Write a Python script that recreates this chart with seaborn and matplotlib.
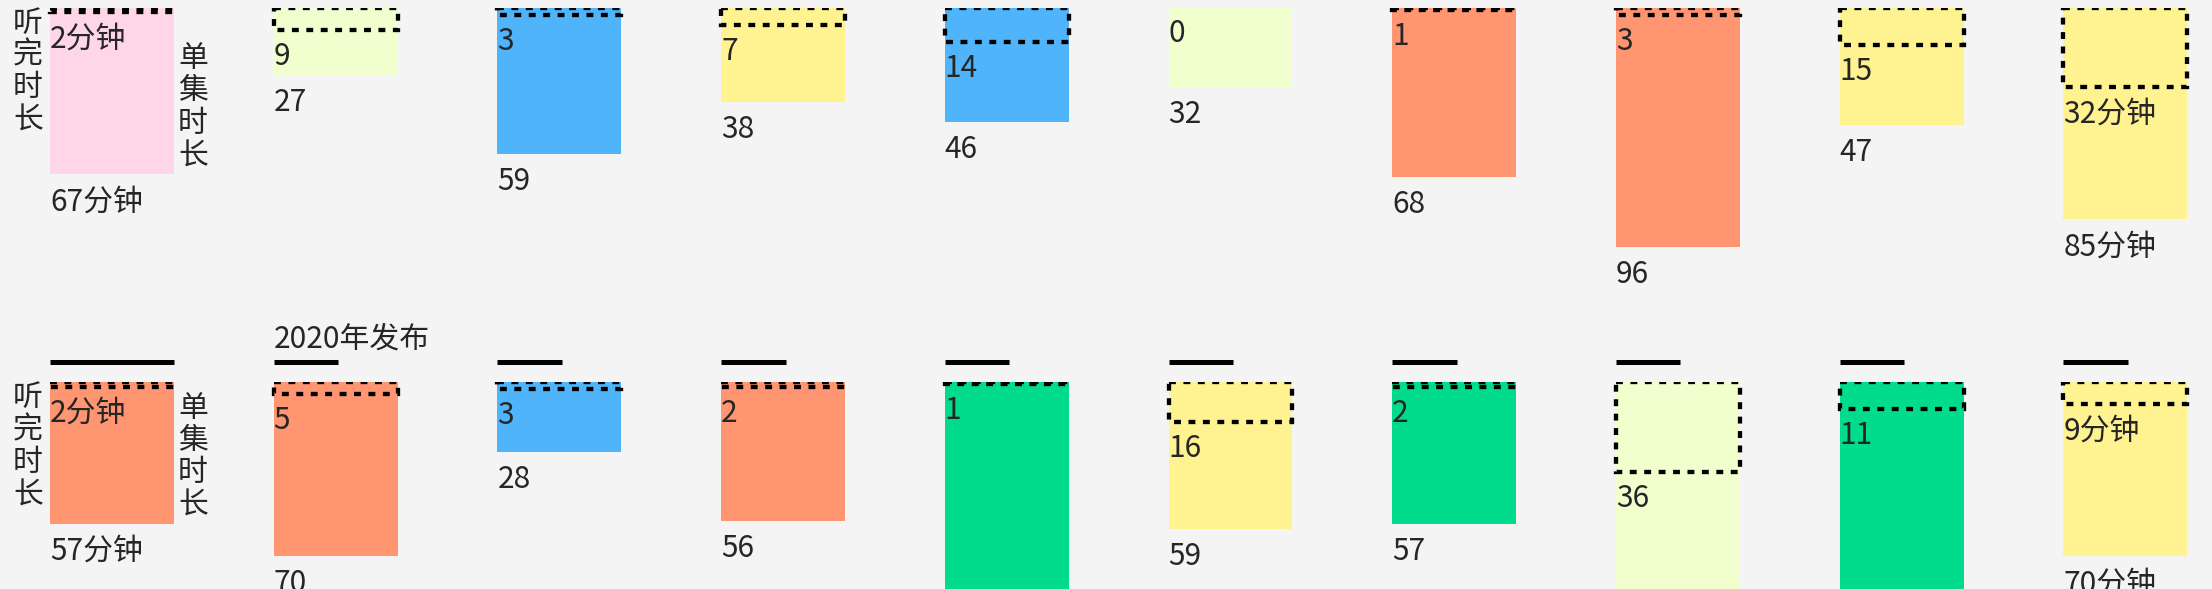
import pandas as pd
import matplotlib.pyplot as plt
from matplotlib.patches import Rectangle
import seaborn as sns

sns.set_style("white")
plt.rcParams['font.family'] = ['Noto Sans CJK SC', 'DejaVu Sans']

# ---------------- data ----------------
PINK, LIGHT, BLUE, YELLOW, SALMON, GREEN = (
    "#ffd6e8", "#f1ffce", "#4fb4fa", "#fff291", "#ff9571", "#00dc8c")

row1_colors = [PINK, LIGHT, BLUE, YELLOW, BLUE, LIGHT, SALMON, SALMON, YELLOW, YELLOW]
row1_listen = [2, 9, 3, 7, 14, 0, 1, 3, 15, 32]      # 听完时长 (min)
row1_length = [67, 27, 59, 38, 46, 32, 68, 96, 47, 85]  # 单集时长 (min)

row2_colors = [SALMON, SALMON, BLUE, SALMON, GREEN, YELLOW, GREEN, LIGHT, GREEN, YELLOW]
row2_listen = [2, 5, 3, 2, 1, 16, 2, 36, 11, 9]
row2_length = [57, 70, 28, 56, 105, 59, 57, 112, 108, 70]  # 5th, 8th, 9th run off the page
row2_rule = [1.0, 0.52, 0.52, 0.52, 0.52, 0.52, 0.52, 0.52, 0.52, 0.52]
row2_notes = {1: "2020年发布"}

unit_cells = (0, 9)
side_left = "听完时长"
side_right = "单集时长"

# ---------------- layout ----------------
W, H = 2212, 589
PX = 2.49          # pixels per minute
PITCH = 223.7      # pixels per cell
BAR_W = 0.554
FS = 21.5
BG = "#f4f4f4"

fig = plt.figure(figsize=(W / 100, H / 100), dpi=100, facecolor=BG)
ax1 = fig.add_axes([0, (H - 7.5 - 320) / H, 1, 320 / H])
ax2 = fig.add_axes([0, 0, 1, (H - 382) / H])


def draw_row(ax, colors, listen, length, visible, rule=None, notes=None):
    slots = [str(i) for i in range(len(length))]
    df = pd.DataFrame({"slot": slots, "length": length})
    sns.barplot(data=df, x="slot", y="length", hue="slot",
                palette=dict(zip(slots, colors)), width=BAR_W,
                saturation=1, errorbar=None, linewidth=0, legend=False, ax=ax)

    for i, (l, n) in enumerate(zip(listen, length)):
        left = i - BAR_W / 2
        if l > 0:
            ax.add_patch(Rectangle((left, 0), BAR_W, l, fill=False,
                                   edgecolor="black", linewidth=3.1,
                                   linestyle=(0, (1.6, 1.75)), zorder=5))
        unit = "分钟" if i in unit_cells else ""
        ax.text(left, l + 35 / PX, f"{l}{unit}", fontsize=FS,
                ha="left", va="baseline", zorder=6)
        # length label sits under the bar; skip it when that is off the page
        if n + 14 / PX < visible:
            ax.text(left, n + 36 / PX, f"{n}{unit}", fontsize=FS,
                    ha="left", va="baseline", clip_on=False)
        if rule is not None:
            ax.hlines(-20 / PX, left, left + BAR_W * rule[i], color="black",
                      linewidth=3.6, clip_on=False)
        if notes and i in notes:
            ax.text(left, -34 / PX, notes[i], fontsize=FS,
                    ha="left", va="baseline", clip_on=False)

    # side captions around the first cell
    ax.text(-BAR_W / 2 - 22 / PITCH, 0, "\n".join(side_left), fontsize=FS,
            ha="center", va="top", linespacing=1.06, clip_on=False)
    ax.text(BAR_W / 2 + 19 / PITCH, length[0] - 3 / PX,
            "\n".join(side_right), fontsize=FS, ha="center", va="bottom",
            linespacing=1.06, clip_on=False)

    ax.set_xlim(-112 / PITCH, (W - 112) / PITCH)
    ax.set_axis_off()


draw_row(ax1, row1_colors, row1_listen, row1_length, visible=320 / PX)
draw_row(ax2, row2_colors, row2_listen, row2_length, visible=(H - 382) / PX,
         rule=row2_rule, notes=row2_notes)

ax1.set_ylim(320 / PX, 0)
ax2.set_ylim((H - 382) / PX, 0)

fig.savefig("out.png", dpi=100, facecolor=BG)
